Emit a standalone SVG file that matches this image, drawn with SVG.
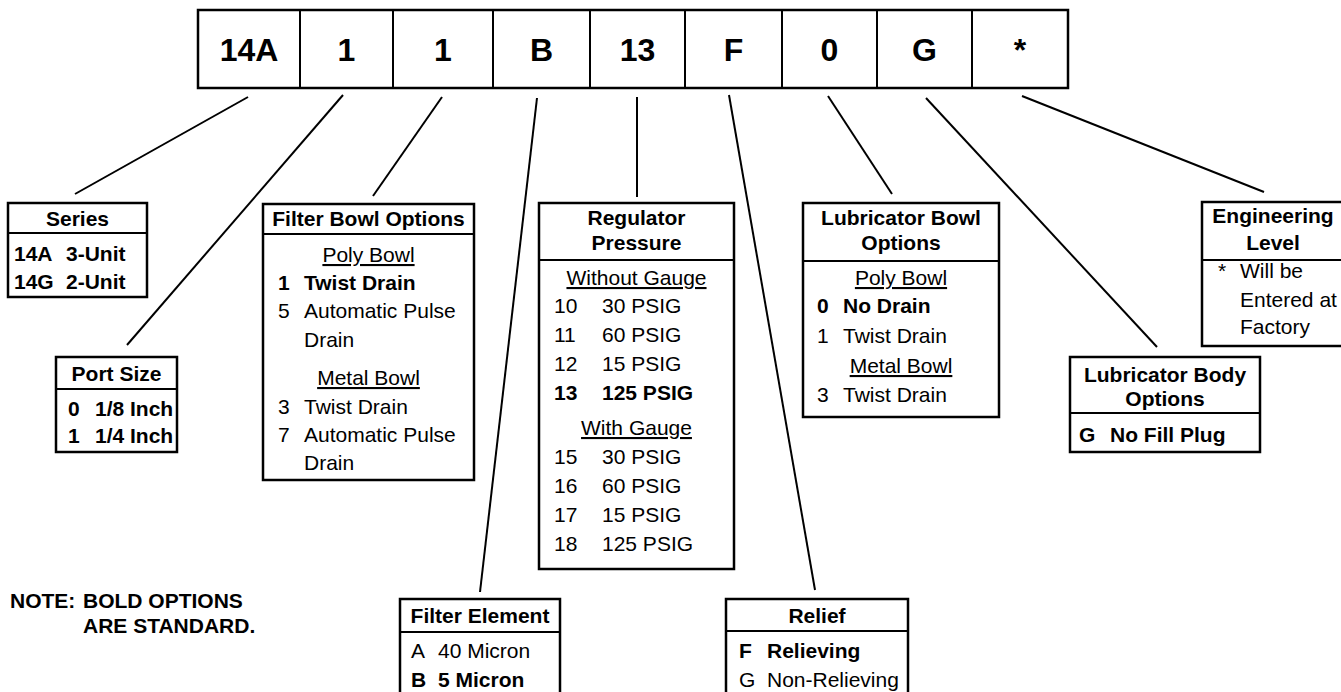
<svg xmlns="http://www.w3.org/2000/svg" width="1341" height="692" viewBox="0 0 1341 692">
<style>
text{font-family:"Liberation Sans",Arial,Helvetica,sans-serif;font-size:21px;fill:#000}
.b{font-weight:bold}
.c{text-anchor:middle}
.u{text-decoration:underline}
.big{font-size:32px;font-weight:bold;text-anchor:middle}
.box{fill:#fff;stroke:#000;stroke-width:2.5}
.div{stroke:#000;stroke-width:2}
.ln{stroke:#000;stroke-width:2;fill:none}
</style>
<rect width="1341" height="692" fill="#fff"/>
<g id="code-bar">
<rect class="box" x="198" y="10" width="870" height="78"/>
<path class="div" d="M300 10V88M393 10V88M493 10V88M590 10V88M685 10V88M782 10V88M877 10V88M972 10V88"/>
<text class="big" x="249" y="61">14A</text>
<text class="big" x="346.5" y="61">1</text>
<text class="big" x="443" y="61">1</text>
<text class="big" x="541.5" y="61">B</text>
<text class="big" x="637.5" y="61">13</text>
<text class="big" x="733.5" y="61">F</text>
<text class="big" x="829.5" y="61">0</text>
<text class="big" x="924.5" y="61">G</text>
<text class="big" x="1020" y="61">*</text>
</g>
<g id="connectors">
<path class="ln" d="M248 97L75 194"/>
<path class="ln" d="M343 95L127 345"/>
<path class="ln" d="M442 97L373 196"/>
<path class="ln" d="M537 98L480 592"/>
<path class="ln" d="M637 97V197"/>
<path class="ln" d="M729 95L815 590"/>
<path class="ln" d="M828 96L892 194"/>
<path class="ln" d="M926 98L1157 347"/>
<path class="ln" d="M1022 96L1264 192"/>
</g>
<g id="series">
<rect class="box" x="8" y="203" width="139" height="94"/>
<path class="div" d="M8 233H147"/>
<text class="b c" x="77.5" y="226">Series</text>
<text class="b" x="14" y="261">14A</text><text class="b" x="66" y="261">3-Unit</text>
<text class="b" x="14" y="289">14G</text><text class="b" x="66" y="289">2-Unit</text>
</g>
<g id="port-size">
<rect class="box" x="56" y="357" width="121" height="95"/>
<path class="div" d="M56 389H177"/>
<text class="b c" x="116.5" y="381">Port Size</text>
<text class="b" x="68" y="416">0</text><text class="b" x="95" y="416">1/8 Inch</text>
<text class="b" x="68" y="443">1</text><text class="b" x="95" y="443">1/4 Inch</text>
</g>
<g id="filter-bowl">
<rect class="box" x="263" y="204" width="211" height="276"/>
<path class="div" d="M263 234H474"/>
<text class="b c" x="368.5" y="226">Filter Bowl Options</text>
<text class="c u" x="368.5" y="262">Poly Bowl</text>
<text class="b" x="278" y="290">1</text><text class="b" x="304" y="290">Twist Drain</text>
<text x="278" y="318">5</text><text x="304" y="318">Automatic Pulse</text>
<text x="304" y="347">Drain</text>
<text class="c u" x="368.5" y="385">Metal Bowl</text>
<text x="278" y="414">3</text><text x="304" y="414">Twist Drain</text>
<text x="278" y="442">7</text><text x="304" y="442">Automatic Pulse</text>
<text x="304" y="470">Drain</text>
</g>
<g id="regulator">
<rect class="box" x="539" y="203" width="195" height="366"/>
<path class="div" d="M539 260H734"/>
<text class="b c" x="636.5" y="225">Regulator</text>
<text class="b c" x="636.5" y="250">Pressure</text>
<text class="c u" x="636.5" y="285">Without Gauge</text>
<text x="554" y="313">10</text><text x="602" y="313">30 PSIG</text>
<text x="554" y="342">11</text><text x="602" y="342">60 PSIG</text>
<text x="554" y="371">12</text><text x="602" y="371">15 PSIG</text>
<text class="b" x="554" y="400">13</text><text class="b" x="602" y="400">125 PSIG</text>
<text class="c u" x="636.5" y="435">With Gauge</text>
<text x="554" y="464">15</text><text x="602" y="464">30 PSIG</text>
<text x="554" y="493">16</text><text x="602" y="493">60 PSIG</text>
<text x="554" y="522">17</text><text x="602" y="522">15 PSIG</text>
<text x="554" y="551">18</text><text x="602" y="551">125 PSIG</text>
</g>
<g id="lubricator-bowl">
<rect class="box" x="803" y="203" width="196" height="214"/>
<path class="div" d="M803 261H999"/>
<text class="b c" x="901" y="225">Lubricator Bowl</text>
<text class="b c" x="901" y="250">Options</text>
<text class="c u" x="901" y="285">Poly Bowl</text>
<text class="b" x="817" y="313">0</text><text class="b" x="843" y="313">No Drain</text>
<text x="817" y="343">1</text><text x="843" y="343">Twist Drain</text>
<text class="c u" x="901" y="373">Metal Bowl</text>
<text x="817" y="402">3</text><text x="843" y="402">Twist Drain</text>
</g>
<g id="engineering-level">
<rect class="box" x="1202" y="202" width="145" height="144"/>
<path class="div" d="M1202 260H1347"/>
<text class="b c" x="1273" y="223">Engineering</text>
<text class="b c" x="1273" y="250">Level</text>
<text x="1218" y="278">*</text>
<text x="1240" y="278">Will be</text>
<text x="1240" y="307">Entered at</text>
<text x="1240" y="334">Factory</text>
</g>
<g id="lubricator-body">
<rect class="box" x="1070" y="357" width="190" height="95"/>
<path class="div" d="M1070 413H1260"/>
<text class="b c" x="1165" y="382">Lubricator Body</text>
<text class="b c" x="1165" y="406">Options</text>
<text class="b" x="1079" y="442">G</text><text class="b" x="1110" y="442">No Fill Plug</text>
</g>
<g id="filter-element">
<rect class="box" x="400" y="599" width="160" height="100"/>
<path class="div" d="M400 632H560"/>
<text class="b c" x="480" y="623">Filter Element</text>
<text x="411" y="658">A</text><text x="438" y="658">40 Micron</text>
<text class="b" x="411" y="687">B</text><text class="b" x="438" y="687">5 Micron</text>
</g>
<g id="relief">
<rect class="box" x="726" y="599" width="182" height="100"/>
<path class="div" d="M726 631H908"/>
<text class="b c" x="817" y="623">Relief</text>
<text class="b" x="739" y="658">F</text><text class="b" x="767" y="658">Relieving</text>
<text x="739" y="687">G</text><text x="767" y="687">Non-Relieving</text>
</g>
<g id="note">
<text class="b" x="10" y="608">NOTE:</text>
<text class="b" x="83" y="608">BOLD OPTIONS</text>
<text class="b" x="83" y="633">ARE STANDARD.</text>
</g>
</svg>
